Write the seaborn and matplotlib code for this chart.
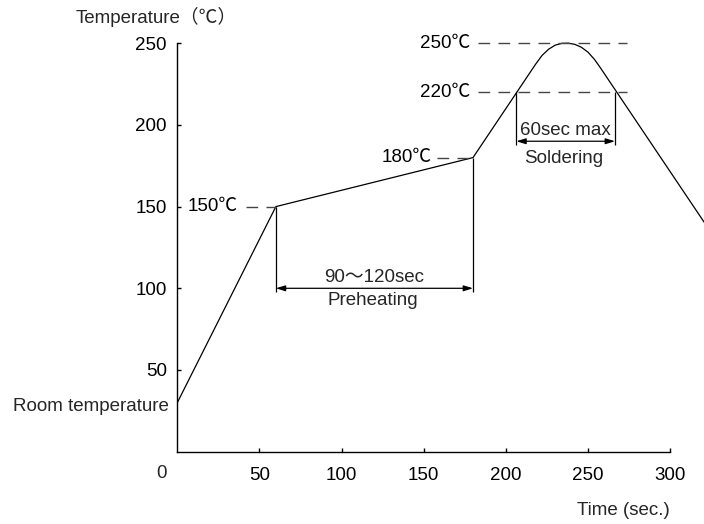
import matplotlib
matplotlib.use('Agg')
import matplotlib.pyplot as plt
import seaborn as sns
import pandas as pd

# ---- data ----
time_s = [0, 60, 180, 218, 222, 226, 230, 234, 238, 242, 246, 250, 254, 257.5, 321]
temp_c = [30, 150, 180, 237, 242.5, 246.3, 248.8, 249.9, 250, 249.3, 247.5, 244.5, 240, 235, 140]

ref_levels = [150, 180, 220, 250]
ref_labels = ['150℃', '180℃', '220℃', '250℃']
ref_start = [42, 158, 183, 183]
ref_end = [60, 180, 274, 274]
ref_label_x = [36.9, 154.7, 178.1, 178.1]

x_ticks = [50, 100, 150, 200, 250, 300]
y_ticks = [50, 100, 150, 200, 250]

preheat_span = [60, 180]
preheat_top = [150, 180]
preheat_level = 100
solder_span = [206.4, 266.4]
solder_top = [220, 220]
solder_level = 190

sns.set_theme(style='white')
plt.rcParams['font.family'] = ['Liberation Sans', 'Noto Sans CJK JP', 'DejaVu Sans']
FS = 13.5

fig = plt.figure(figsize=(7.04, 5.24), dpi=100)
ax = fig.add_axes([177.3 / 704, 72.3 / 524, 526.7 / 704, 265 * 1.634 / 524])

df = pd.DataFrame({'time': time_s, 'temp': temp_c})
sns.lineplot(data=df, x='time', y='temp', ax=ax, color='black', lw=0.9,
             sort=False, estimator=None)

# reference dashed levels
ax.hlines(ref_levels, ref_start, ref_end, colors='#444444', lw=1.0,
          linestyles=(0, (8.4, 6)))
for lx, lv, lab in zip(ref_label_x, ref_levels, ref_labels):
    ax.text(lx, lv, lab, ha='right', va='center', fontsize=FS, color='black')

# preheating bracket
ax.vlines(preheat_span, [preheat_level - 2] * 2, preheat_top, colors='black', lw=0.9)
ax.annotate('', xy=(preheat_span[1], preheat_level), xytext=(preheat_span[0], preheat_level),
            arrowprops=dict(arrowstyle='<|-|>,head_length=0.55,head_width=0.17',
                            mutation_scale=10, color='black', lw=0.9,
                            shrinkA=0, shrinkB=0))
ax.text(sum(preheat_span) / 2, preheat_level + 6.5, '90～120sec', ha='center',
        va='center', fontsize=FS)
ax.text(sum(preheat_span) / 2 - 1, preheat_level - 7.5, 'Preheating', ha='center',
        va='center', fontsize=FS)

# soldering bracket
ax.vlines(solder_span, [solder_level - 2] * 2, solder_top, colors='black', lw=0.9)
ax.annotate('', xy=(solder_span[1], solder_level), xytext=(solder_span[0], solder_level),
            arrowprops=dict(arrowstyle='<|-|>,head_length=0.55,head_width=0.17',
                            mutation_scale=10, color='black', lw=0.9,
                            shrinkA=0, shrinkB=0))
ax.text(sum(solder_span) / 2, solder_level + 6.5, '60sec max', ha='center',
        va='center', fontsize=FS)
ax.text(sum(solder_span) / 2 - 1, solder_level - 10.5, 'Soldering', ha='center',
        va='center', fontsize=FS)

# axes styling
ax.set_xlim(0, 320.6)
ax.set_ylim(0, 265)
ax.set_xticks(x_ticks)
ax.set_yticks(y_ticks)
ax.set_xlabel('')
ax.set_ylabel('')
for s in ['top', 'right']:
    ax.spines[s].set_visible(False)
ax.spines['left'].set_bounds(0, 250)
ax.spines['bottom'].set_bounds(0, 300)
for s in ['left', 'bottom']:
    ax.spines[s].set_color('black')
    ax.spines[s].set_linewidth(1.0)
ax.tick_params(axis='both', direction='in', length=3, width=1.0, colors='black',
               labelsize=FS, labelcolor='black')
ax.tick_params(axis='x', pad=10.8, bottom=True)
ax.tick_params(axis='y', pad=7.6, left=True)
ax.set_facecolor('white')

ax.text(-9.5, -13.3, '0', ha='center', va='center', fontsize=FS, clip_on=False)
ax.text(-5, 27.5, 'Room temperature', ha='right', va='center', fontsize=FS, clip_on=False)
ax.text(300, -35.7, 'Time (sec.)', ha='right', va='center', fontsize=FS, clip_on=False)
ax.text(-61.7, 266, 'Temperature（℃）', ha='left', va='center', fontsize=FS, clip_on=False)

fig.savefig('out.png', dpi=100, facecolor='white')
